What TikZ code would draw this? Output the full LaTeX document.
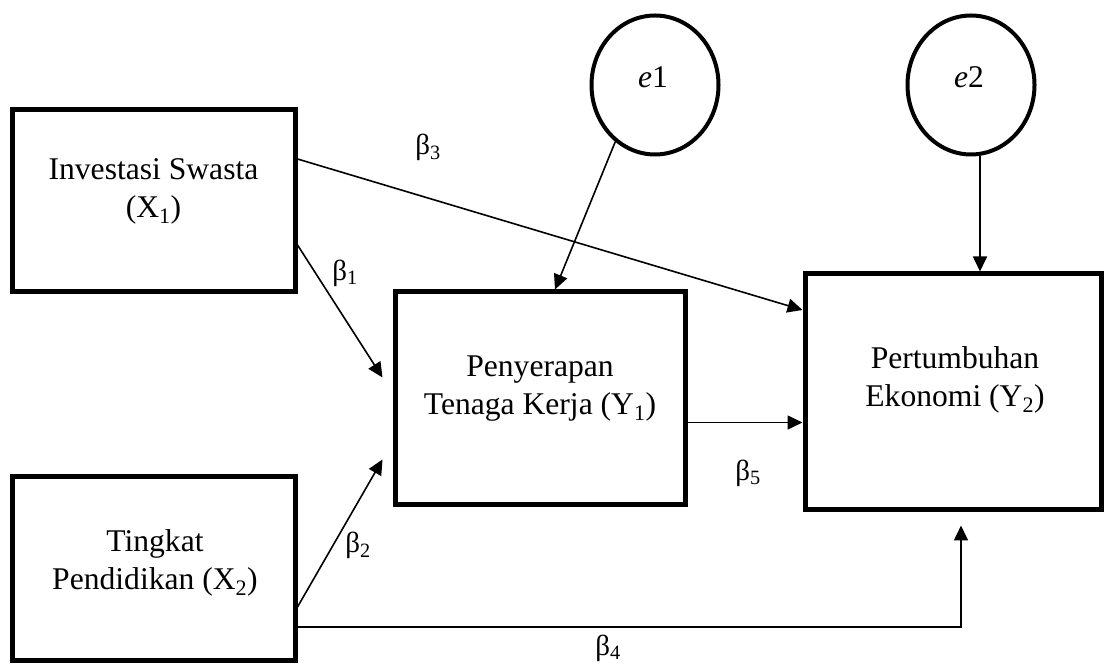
\documentclass[tikz,border=0pt]{standalone}
\usepackage{fontspec}
\setmainfont{Liberation Serif}
\usetikzlibrary{arrows.meta,shapes}
\newcommand{\vsub}[1]{\textsubscript{#1}}

\begin{document}
\begin{tikzpicture}[>={Triangle[length=15bp,width=14bp]}]
      \tikzstyle{every node}=[font=\fontsize{31.6bp}{38bp}\selectfont]
      \tikzstyle{box}=[draw,line width=5bp,inner sep=0pt]
      \tikzstyle{err}=[draw,ellipse,line width=4bp,inner sep=0pt,minimum width=127bp,minimum height=139bp]
      \tikzstyle{txt}=[align=center,inner sep=0pt]
      \tikzstyle{coef}=[font=\fontsize{29bp}{34bp}\selectfont,inner sep=0pt]
      \tikzstyle{path}=[->,line width=1.6bp]
      \useasboundingbox (0bp,0bp) rectangle (1106bp,667bp);

%%
  \node (x1) at (153.5bp,466bp) [box,minimum width=283bp,minimum height=182bp] {};
  \node (x2) at (153.5bp,98bp) [box,minimum width=283bp,minimum height=184bp] {};
  \node (y1) at (540bp,268.5bp) [box,minimum width=290bp,minimum height=213bp] {};
  \node (y2) at (953bp,275bp) [box,minimum width=296bp,minimum height=236bp] {};
  \node (e1) at (655bp,582bp) [err] {};
  \node (e2) at (971bp,582bp) [err] {};
  \node (x1_t) at (153.5bp,476bp) [txt] {Investasi Swasta\\(X\vsub{1})};
  \node (x2_t) at (155bp,104bp) [txt] {Tingkat\\Pendidikan (X\vsub{2})};
  \node (y1_t) at (540bp,278bp) [txt] {Penyerapan\\Tenaga Kerja (Y\vsub{1})};
  \node (y2_t) at (955bp,287bp) [txt] {Pertumbuhan\\Ekonomi (Y\vsub{2})};
  \node (e1_t) at (653bp,590bp) [txt] {\textit{e}1};
  \node (e2_t) at (969bp,590bp) [txt] {\textit{e}2};
  \node (b1) at (345bp,394bp) [coef] {β\vsub{1}};
  \node (b2) at (358bp,122bp) [coef] {β\vsub{2}};
  \node (b3) at (428bp,520bp) [coef] {β\vsub{3}};
  \node (b4) at (608bp,19bp) [coef] {β\vsub{4}};
  \node (b5) at (748bp,194bp) [coef] {β\vsub{5}};
  \coordinate (b4_end) at ([xshift=8bp,yshift=-13bp]y2.south);
  \draw [path] (e1.235) -- ([xshift=15bp]y1.north);
  \draw [path] ([xshift=9bp]e2.south) -- ([xshift=9bp]e2.south |- y2.north);
  \draw [path] ([yshift=42bp]x1.east) -- ([yshift=82bp]y2.west);
  \draw [path] ([yshift=-44bp]x1.east) -- ([xshift=-10bp,yshift=21bp]y1.west);
  \draw [path] ([yshift=-38bp]x2.east) -- ([xshift=-10bp,yshift=-61bp]y1.west);
  \draw [path] ([yshift=-24bp]y1.east) -- ([yshift=-24bp]y1.east -| y2.west);
  \draw [path] ([yshift=-58bp]x2.east) -| (b4_end);
%

\end{tikzpicture}
\end{document}
